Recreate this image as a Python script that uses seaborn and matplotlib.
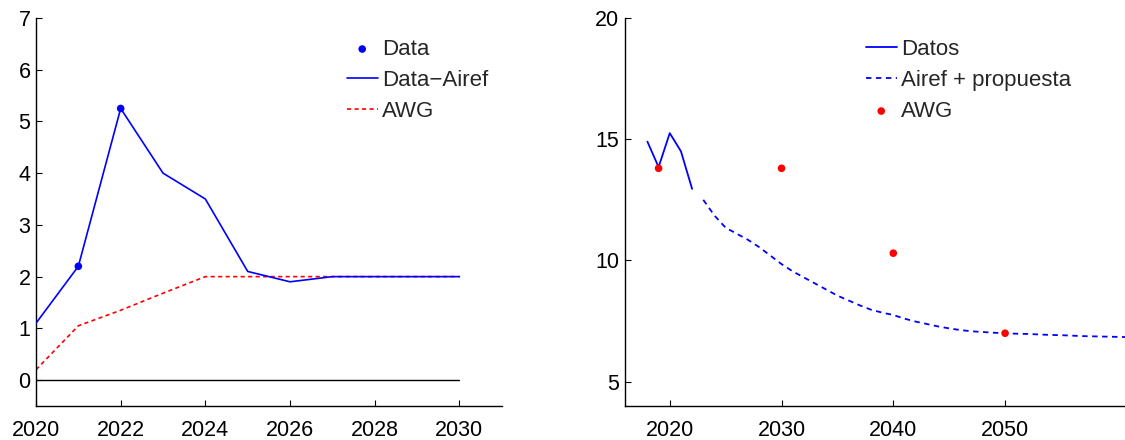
import matplotlib
matplotlib.use("Agg")
import matplotlib.pyplot as plt
import seaborn as sns
import numpy as np

# Left panel data
left_years = [2020, 2021, 2022, 2023, 2024, 2025, 2026, 2027, 2028, 2029, 2030]
data_airef = [1.1, 2.2, 5.25, 4.0, 3.5, 2.1, 1.9, 2.0, 2.0, 2.0, 2.0]
awg_left = [0.2, 1.05, 1.35, 1.68, 2.0, 2.0, 2.0, 2.0, 2.0, 2.0, 2.0]
data_years = [2021, 2022]
data_vals = [2.2, 5.25]
zero_years = [2020, 2030]
zero_vals = [0, 0]
left_xticks = [2020, 2022, 2024, 2026, 2028, 2030]
left_yticks = [0, 1, 2, 3, 4, 5, 6, 7]

# Right panel data
datos_years = [2018, 2019, 2020, 2021, 2022]
datos_vals = [14.9, 13.85, 15.25, 14.5, 12.95]
airef_years = list(range(2023, 2063))
airef_vals = [12.5, 11.85, 11.35, 11.1, 10.85, 10.55, 10.2, 9.85, 9.55, 9.3,
              9.05, 8.8, 8.55, 8.35, 8.15, 7.97, 7.85, 7.75, 7.6, 7.48,
              7.38, 7.28, 7.2, 7.13, 7.08, 7.05, 7.02, 7.0, 6.98, 6.97,
              6.95, 6.93, 6.92, 6.9, 6.88, 6.87, 6.86, 6.85, 6.84, 6.83]
awg_years = [2019, 2030, 2040, 2050]
awg_vals = [13.8, 13.8, 10.3, 7.0]
right_xticks = [2020, 2030, 2040, 2050]
right_yticks = [5, 10, 15, 20]

sns.set_style("ticks")
plt.rcParams['font.family'] = ['Liberation Sans', 'DejaVu Sans']
plt.rcParams['xtick.direction'] = 'in'
plt.rcParams['ytick.direction'] = 'in'

fig = plt.figure(figsize=(11.25, 4.4), dpi=100)
ax1 = fig.add_axes([0.032, 0.0773, 0.414, 0.882])
ax2 = fig.add_axes([0.5556, 0.0773, 0.46, 0.882])

FS = 15.5
LFS = 16

# Left
sns.scatterplot(x=data_years, y=data_vals, ax=ax1, color='blue', s=30,
                edgecolor='none', label='Data', zorder=4)
sns.lineplot(x=left_years, y=data_airef, ax=ax1, color='blue', lw=1.2,
             label='Data\u2212Airef', zorder=3)
sns.lineplot(x=left_years, y=awg_left, ax=ax1, color='red', lw=1.2,
             linestyle=(0, (2.5, 2)), label='AWG', zorder=2)
sns.lineplot(x=zero_years, y=zero_vals, ax=ax1, color='black', lw=1.0,
             legend=False, zorder=1)
ax1.set_xlim(2020, 2031)
ax1.set_ylim(-0.5, 7)
ax1.set_xticks(left_xticks)
ax1.set_yticks(left_yticks)

# Right
sns.lineplot(x=datos_years, y=datos_vals, ax=ax2, color='blue', lw=1.3,
             label='Datos', zorder=3)
sns.lineplot(x=airef_years, y=airef_vals, ax=ax2, color='blue', lw=1.3,
             linestyle=(0, (3, 2.5)), label='Airef + propuesta', zorder=2)
sns.scatterplot(x=awg_years, y=awg_vals, ax=ax2, color='red', s=30,
                edgecolor='none', label='AWG', zorder=4)
ax2.set_xlim(2016, 2062.3)
ax2.set_ylim(4, 20)
ax2.set_xticks(right_xticks)
ax2.set_yticks(right_yticks)

for ax in (ax1, ax2):
    sns.despine(ax=ax)
    ax.tick_params(labelsize=FS, length=4, width=0.8, colors='black')
    ax.tick_params(axis='x', pad=10)
    ax.tick_params(axis='y', pad=4)
    for s in ('left', 'bottom'):
        ax.spines[s].set_linewidth(1.0)
        ax.spines[s].set_color('black')
    ax.set_xlabel('')
    ax.set_ylabel('')

ax1.legend(loc='upper left', bbox_to_anchor=(0.667, 0.946), frameon=False,
           fontsize=LFS, handlelength=1.4, handletextpad=0.2, labelspacing=0.45,
           borderaxespad=0, borderpad=0)
ax2.legend(loc='upper left', bbox_to_anchor=(0.465, 0.946), frameon=False,
           fontsize=LFS, handlelength=1.4, handletextpad=0.2, labelspacing=0.45,
           borderaxespad=0, borderpad=0)

fig.savefig('out.png', dpi=100)
